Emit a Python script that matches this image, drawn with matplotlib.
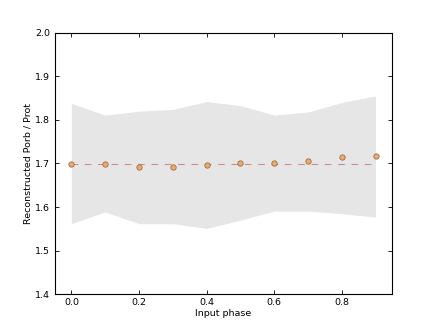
import matplotlib
matplotlib.use("Agg")
import matplotlib.pyplot as plt

# values
phase = [0.0, 0.1, 0.2, 0.3, 0.4, 0.5, 0.6, 0.7, 0.8, 0.9]
ratio = [1.700, 1.700, 1.691, 1.693, 1.697, 1.702, 1.701, 1.705, 1.714, 1.717]
upper = [1.838, 1.811, 1.820, 1.824, 1.842, 1.833, 1.811, 1.818, 1.840, 1.855]
lower = [1.562, 1.589, 1.562, 1.562, 1.551, 1.570, 1.591, 1.591, 1.585, 1.577]
true_ratio = 1.7

plt.rcParams['font.size'] = 6.8
plt.rcParams['xtick.direction'] = 'in'
plt.rcParams['ytick.direction'] = 'in'
plt.rcParams['xtick.top'] = True
plt.rcParams['ytick.right'] = True

fig = plt.figure(figsize=(4.36, 3.27), dpi=100)
ax = fig.add_axes([0.125, 0.1, 0.775, 0.8])

ax.fill_between(phase, lower, upper, color='0.9', linewidth=0)
ax.plot([phase[0], phase[-1]], [true_ratio, true_ratio], '--', color='#c05050', alpha=0.6, lw=0.8, dashes=(6, 6))
ax.scatter(phase, ratio, s=15, c='#f0a868', edgecolors='#8a6040', linewidths=0.5, zorder=3)

ax.set_xlim(-0.05, 0.95)
ax.set_ylim(1.4, 2.0)
ax.set_xticks([0.0, 0.2, 0.4, 0.6, 0.8])
ax.set_xlabel("Input phase", labelpad=1)
ax.set_ylabel("Reconstructed Porb / Prot", labelpad=2)
ax.tick_params(length=3, width=0.6, pad=3)
for s in ax.spines.values():
    s.set_linewidth(0.8)

fig.savefig("out.png", dpi=100)
